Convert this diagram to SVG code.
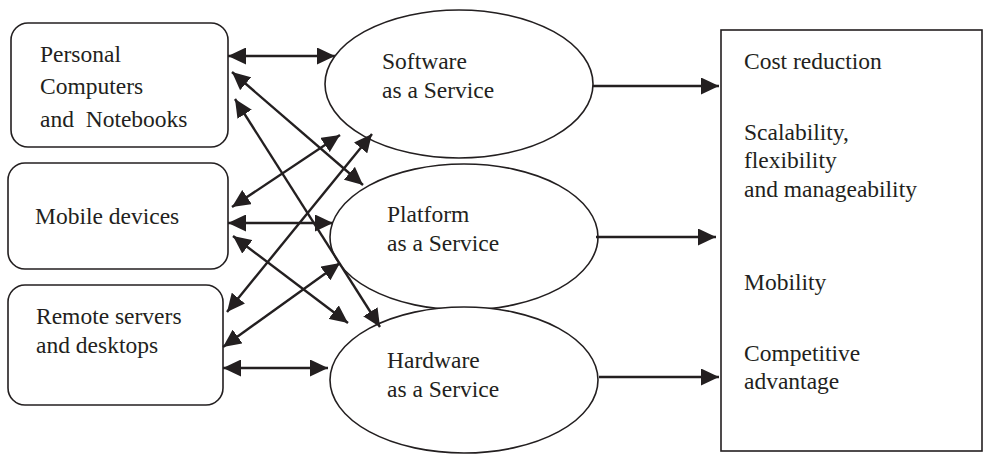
<svg xmlns="http://www.w3.org/2000/svg" width="983" height="455" viewBox="0 0 983 455">
<style>
  .box { fill: #fff; stroke: #231f20; stroke-width: 1.6; }
  .ell { fill: #fff; stroke: #231f20; stroke-width: 1.6; }
  .t { font-family: "Liberation Serif", "Times New Roman", serif; font-size: 23.5px; fill: #231f20; }
  .c line { stroke: #231f20; stroke-width: 2.4; }
  .bi { marker-start: url(#ah); marker-end: url(#ah); }
  .uni { marker-end: url(#ah); }
</style>
<defs>
  <marker id="ah" viewBox="0 0 18 17" markerWidth="18" markerHeight="17" refX="18" refY="8.5" orient="auto-start-reverse" markerUnits="userSpaceOnUse">
    <path d="M0,0 L18,8.5 L0,17 Z" fill="#231f20"/>
  </marker>
</defs>
<rect width="983" height="455" fill="#fff"/>

<g id="pc">
  <rect class="box" x="11" y="23" width="217" height="124" rx="17"/>
  <text class="t" x="40" y="62">Personal</text>
  <text class="t" x="40" y="94">Computers</text>
  <text class="t" x="40" y="127" xml:space="preserve">and  Notebooks</text>
</g>
<g id="mobile">
  <rect class="box" x="8" y="163" width="220" height="106" rx="17"/>
  <text class="t" x="35" y="224">Mobile devices</text>
</g>
<g id="remote">
  <rect class="box" x="8" y="285" width="215" height="120" rx="17"/>
  <text class="t" x="36" y="324">Remote servers</text>
  <text class="t" x="36" y="353">and desktops</text>
</g>

<g id="saas">
  <ellipse class="ell" cx="459" cy="84" rx="134" ry="74"/>
  <text class="t" x="382" y="69">Software</text>
  <text class="t" x="382" y="98">as a Service</text>
</g>
<g id="paas">
  <ellipse class="ell" cx="464" cy="237" rx="134" ry="73"/>
  <text class="t" x="387" y="222">Platform</text>
  <text class="t" x="387" y="251">as a Service</text>
</g>
<g id="haas">
  <ellipse class="ell" cx="464" cy="380" rx="134" ry="73"/>
  <text class="t" x="387" y="368">Hardware</text>
  <text class="t" x="387" y="397">as a Service</text>
</g>

<g id="benefits">
  <rect class="box" x="721" y="30" width="261" height="421"/>
  <text class="t" x="744" y="69">Cost reduction</text>
  <text class="t" x="744" y="140">Scalability,</text>
  <text class="t" x="744" y="168">flexibility</text>
  <text class="t" x="744" y="197">and manageability</text>
  <text class="t" x="744" y="290">Mobility</text>
  <text class="t" x="744" y="361">Competitive</text>
  <text class="t" x="744" y="389">advantage</text>
</g>

<g id="connectors" class="c">
  <line class="bi" x1="228" y1="56" x2="335" y2="56"/>
  <line class="bi" x1="232" y1="72" x2="363" y2="185"/>
  <line class="bi" x1="235" y1="99" x2="380" y2="327"/>
  <line class="bi" x1="232" y1="207" x2="340" y2="135"/>
  <line class="bi" x1="228" y1="223" x2="333" y2="223"/>
  <line class="bi" x1="233" y1="236" x2="348" y2="323"/>
  <line class="bi" x1="227" y1="312" x2="372" y2="134"/>
  <line class="bi" x1="223" y1="347" x2="340" y2="263"/>
  <line class="bi" x1="223" y1="368" x2="328" y2="368"/>
  <line class="uni" x1="593" y1="86" x2="719" y2="86"/>
  <line class="uni" x1="596" y1="237" x2="716" y2="237"/>
  <line class="uni" x1="599" y1="377" x2="719" y2="377"/>
</g>
</svg>
